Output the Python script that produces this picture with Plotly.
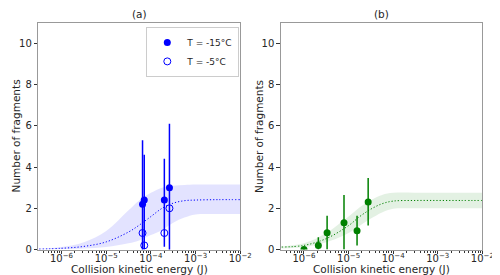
import plotly.graph_objects as go

# ---- data: panel (a) ----
a_x = [6.5e-5, 7.1e-5, 2.0e-4, 2.6e-4]
a_cold_y = [2.2, 2.4, 2.4, 3.0]
a_cold_err_plus = [3.1, 2.2, 2.0, 3.1]
a_cold_err_minus = [3.1, 2.4, 2.26, 3.1]
a_warm_y = [0.8, 0.2, 0.8, 2.0]

fit_logx = [-6.5, -6.0, -5.5, -5.0, -4.5, -4.25, -4.0, -3.75, -3.5, -3.25, -3.0, -2.5, -2.0]
a_fit = [0.02, 0.06, 0.15, 0.37, 0.85, 1.2, 1.6, 2.0, 2.25, 2.37, 2.4, 2.42, 2.42]
a_fit_hi = [0.04, 0.12, 0.35, 0.9, 1.9, 2.4, 2.75, 3.0, 3.1, 3.13, 3.15, 3.15, 3.15]
a_fit_lo = [0.0, 0.02, 0.05, 0.12, 0.3, 0.45, 0.7, 0.95, 1.3, 1.55, 1.7, 1.72, 1.72]

# ---- data: panel (b) ----
b_x = [1.0e-6, 2.1e-6, 3.3e-6, 7.9e-6, 1.55e-5, 2.75e-5]
b_y = [0.0, 0.2, 0.81, 1.3, 0.91, 2.31]
b_err_plus = [0.05, 0.4, 0.83, 1.34, 0.73, 1.16]
b_err_minus = [0.05, 0.2, 0.81, 1.3, 0.71, 1.15]

b_fit_logx = [-6.5, -6.0, -5.5, -5.0, -4.75, -4.5, -4.25, -4.0, -3.5, -3.0, -2.5, -2.0]
b_fit = [0.12, 0.2, 0.53, 1.16, 1.6, 1.96, 2.22, 2.35, 2.38, 2.38, 2.38, 2.38]
b_fit_hi = [0.15, 0.3, 0.8, 1.6, 2.05, 2.4, 2.65, 2.75, 2.76, 2.76, 2.76, 2.76]
b_fit_lo = [0.05, 0.12, 0.35, 0.8, 1.15, 1.5, 1.8, 1.98, 2.0, 2.0, 2.0, 2.0]

xtick_vals = [1e-6, 1e-5, 1e-4, 1e-3, 1e-2]
xtick_text = ["10<sup>−6</sup>", "10<sup>−5</sup>", "10<sup>−4</sup>", "10<sup>−3</sup>", "10<sup>−2</sup>"]
ytick_vals = [0, 2, 4, 6, 8, 10]

BLUE = "#0000ff"
GREEN = "#008000"
FONT = "DejaVu Sans"
TXT = "#262626"

fa = [10 ** v for v in fit_logx]
fb = [10 ** v for v in b_fit_logx]

fig = go.Figure()

# panel (a) band
fig.add_trace(go.Scatter(x=fa, y=a_fit_hi, mode="lines", line=dict(width=0), showlegend=False,
                         hoverinfo="skip", xaxis="x", yaxis="y", line_shape="spline"))
fig.add_trace(go.Scatter(x=fa, y=a_fit_lo, mode="lines", line=dict(width=0), fill="tonexty",
                         fillcolor="rgba(0,0,255,0.11)", showlegend=False, hoverinfo="skip",
                         xaxis="x", yaxis="y", line_shape="spline"))
fig.add_trace(go.Scatter(x=fa, y=a_fit, mode="lines", line=dict(color=BLUE, width=1, dash="1.2px,2px"),
                         showlegend=False, xaxis="x", yaxis="y", line_shape="spline"))
fig.add_trace(go.Scatter(x=a_x, y=a_cold_y, mode="markers", name="T = -15°C",
                         marker=dict(color=BLUE, size=7),
                         error_y=dict(type="data", array=a_cold_err_plus, arrayminus=a_cold_err_minus,
                                      color=BLUE, thickness=1.5, width=0),
                         xaxis="x", yaxis="y"))
fig.add_trace(go.Scatter(x=a_x, y=a_warm_y, mode="markers", name="T = -5°C",
                         marker=dict(color=BLUE, size=7, symbol="circle-open", line=dict(width=1)),
                         xaxis="x", yaxis="y"))

# panel (b)
fig.add_trace(go.Scatter(x=fb, y=b_fit_hi, mode="lines", line=dict(width=0), showlegend=False,
                         hoverinfo="skip", xaxis="x2", yaxis="y2", line_shape="spline"))
fig.add_trace(go.Scatter(x=fb, y=b_fit_lo, mode="lines", line=dict(width=0), fill="tonexty",
                         fillcolor="rgba(0,128,0,0.11)", showlegend=False, hoverinfo="skip",
                         xaxis="x2", yaxis="y2", line_shape="spline"))
fig.add_trace(go.Scatter(x=fb, y=b_fit, mode="lines", line=dict(color=GREEN, width=1, dash="1.2px,2px"),
                         showlegend=False, xaxis="x2", yaxis="y2", line_shape="spline"))
fig.add_trace(go.Scatter(x=b_x, y=b_y, mode="markers", showlegend=False,
                         marker=dict(color=GREEN, size=7),
                         error_y=dict(type="data", array=b_err_plus, arrayminus=b_err_minus,
                                      color=GREEN, thickness=1.5, width=0),
                         xaxis="x2", yaxis="y2"))

xa = dict(type="log", range=[-6.52, -2], tickvals=xtick_vals, ticktext=xtick_text,
          ticks="outside", ticklen=3.5, tickcolor="#333", showgrid=False, zeroline=False,
          showline=True, linecolor="#999", linewidth=1, mirror=True, ticklabelstandoff=-4,
          minor=dict(ticks="outside", ticklen=2, tickcolor="#333", dtick="D1", showgrid=False),
          tickfont=dict(family=FONT, size=10, color=TXT))
ya = dict(range=[0, 11], tickvals=ytick_vals, ticks="outside", ticklen=3.5, tickcolor="#333",
          showgrid=False, zeroline=False, showline=True, linecolor="#999", linewidth=1, mirror=True,
          tickfont=dict(family=FONT, size=10, color=TXT))

def ann(text, x, y, **kw):
    d = dict(text=text, x=x, y=y, xref="paper", yref="paper", showarrow=False,
             font=dict(family=FONT, size=10.5, color=TXT))
    d.update(kw)
    return d

fig.update_layout(
    width=500, height=275, margin=dict(l=0, r=0, t=0, b=0),
    paper_bgcolor="white", plot_bgcolor="white",
    xaxis=dict(xa, domain=[0.062, 0.476], anchor="y"),
    yaxis=dict(ya, domain=[0.1055, 0.945], anchor="x"),
    xaxis2=dict(xa, domain=[0.559, 0.972], anchor="y2"),
    yaxis2=dict(ya, domain=[0.1055, 0.945], anchor="x2"),
    legend=dict(x=0.474, y=0.93, xanchor="right", yanchor="top", bgcolor="white",
                traceorder="normal",
                bordercolor="#ccc", borderwidth=1, font=dict(family=FONT, size=9, color=TXT),
                tracegroupgap=0, itemwidth=30),
    annotations=[
        ann("(a)", 0.269, 0.95, xanchor="center", yanchor="bottom"),
        ann("(b)", 0.7655, 0.95, xanchor="center", yanchor="bottom"),
        ann("Collision kinetic energy (J)", 0.269, 0.032, xanchor="center", yanchor="middle"),
        ann("Collision kinetic energy (J)", 0.7655, 0.032, xanchor="center", yanchor="middle"),
        ann("Number of fragments", 0.017, 0.5255, xanchor="center", yanchor="middle", textangle=-90),
        ann("Number of fragments", 0.514, 0.5255, xanchor="center", yanchor="middle", textangle=-90),
    ],
)

fig.write_html("out.html")
